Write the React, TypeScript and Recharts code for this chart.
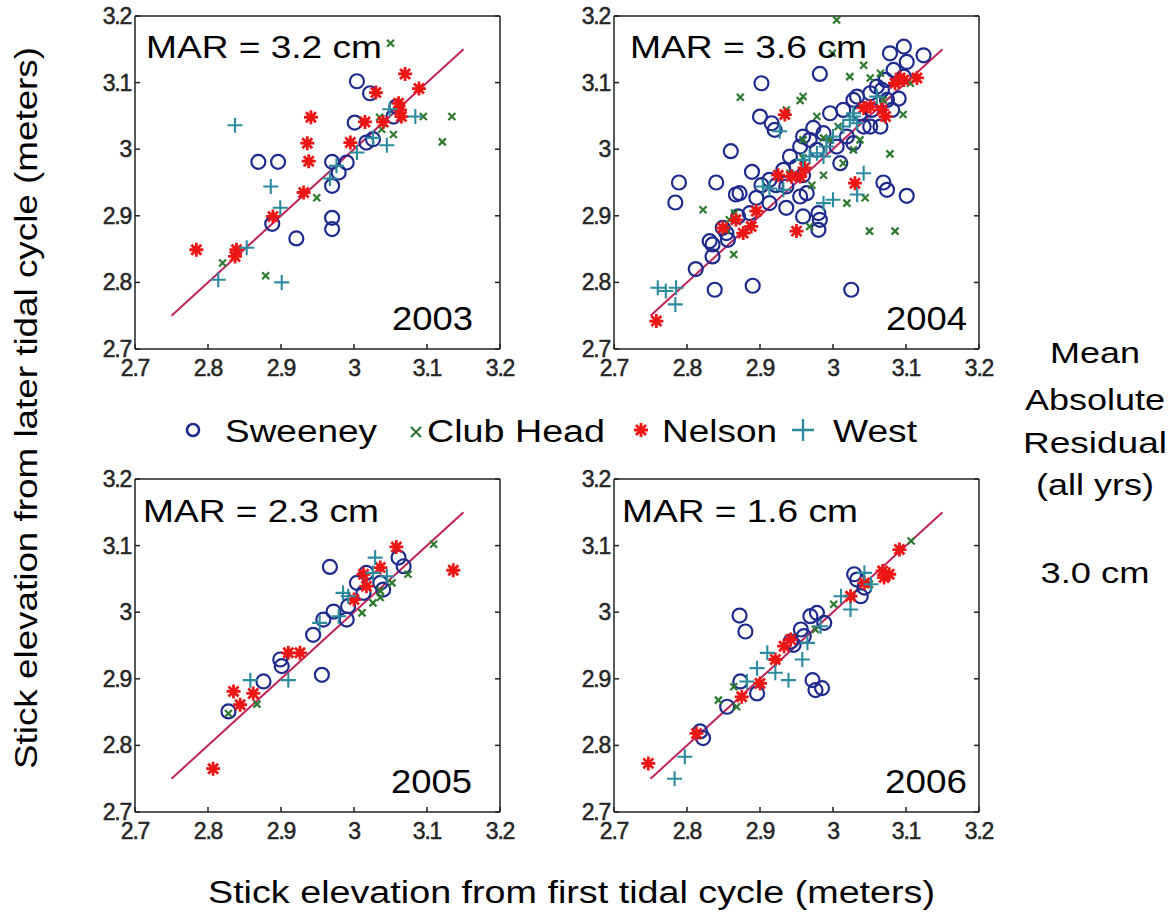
import { ScatterChart, Scatter, XAxis, YAxis, ReferenceLine } from "recharts";

type Pt = [number, number];

const TICKS = [2.7, 2.8, 2.9, 3, 3.1, 3.2];
const YEARS = ["2003", "2004", "2005", "2006"];
const MAR = ["MAR = 3.2 cm", "MAR = 3.6 cm", "MAR = 2.3 cm", "MAR = 1.6 cm"];
const SITES = ["Sweeney", "Club Head", "Nelson", "West"];
const SUMMARY = ["Mean", "Absolute", "Residual", "(all yrs)", "", "3.0 cm"];

// 2003
const sweeney2003: Pt[] = [
  [3.004, 3.102], [3.022, 3.084], [3.001, 3.04], [2.869, 2.981], [2.896, 2.981], [2.97, 2.981],
  [2.99, 2.98], [3.017, 3.01], [2.97, 2.945], [2.97, 2.897], [2.97, 2.88], [2.921, 2.866],
  [2.888, 2.888], [3.058, 3.064], [3.054, 3.049], [3.026, 3.015], [2.979, 2.965],
];
const clubHead2003: Pt[] = [
  [3.05, 3.159], [3.095, 3.049], [3.134, 3.049], [3.121, 3.011], [2.949, 2.927], [2.879, 2.81],
  [2.82, 2.829], [3.038, 3.03], [3.054, 3.022], [3.035, 3.048],
];
const nelson2003: Pt[] = [
  [3.07, 3.113], [3.089, 3.091], [3.03, 3.085], [2.941, 3.048], [2.936, 3.009], [2.938, 2.982],
  [2.931, 2.935], [2.889, 2.899], [2.784, 2.849], [2.839, 2.849], [2.837, 2.839], [3.015, 3.041],
  [2.995, 3.01], [3.063, 3.059], [3.065, 3.049], [3.061, 3.069], [3.04, 3.041],
];
const west2003: Pt[] = [
  [2.837, 3.036], [2.886, 2.944], [2.899, 2.912], [2.814, 2.804], [2.901, 2.8], [2.853, 2.852],
  [3.045, 3.006], [3.084, 3.049], [3.049, 3.06], [2.976, 2.975], [3.026, 3.017], [3.004, 2.995],
  [2.967, 2.956],
];

// 2004
const sweeney2004: Pt[] = [
  [2.902, 3.099], [2.982, 3.113], [2.9, 3.049], [2.92, 3.029], [2.916, 3.039], [2.86, 2.997],
  [2.789, 2.95], [2.784, 2.92], [2.84, 2.95], [2.889, 2.966], [2.872, 2.934], [2.849, 2.882],
  [2.835, 2.857], [2.835, 2.839], [2.812, 2.82], [2.838, 2.789], [2.89, 2.795], [3.025, 2.789],
  [3.101, 2.93], [3.069, 2.95], [3.074, 2.939], [2.959, 2.899], [2.98, 2.904], [2.98, 2.879],
  [2.982, 2.894], [2.936, 2.912], [2.913, 2.919], [2.895, 2.927], [2.902, 2.946], [2.922, 2.946],
  [2.941, 2.989], [2.955, 3.004], [2.973, 3.032], [2.996, 3.054], [3.01, 2.979], [3.033, 3.079],
  [3.037, 3.054], [3.042, 3.034], [3.067, 3.089], [3.078, 3.144], [3.097, 3.154], [3.124, 3.141],
  [3.101, 3.131], [3.083, 3.119], [3.072, 3.104], [3.09, 3.076], [3.065, 3.034], [3.053, 3.059],
  [2.959, 2.961], [2.95, 2.974], [3.005, 3.004], [2.964, 2.934], [3.097, 3.109], [3.081, 3.059],
  [3.019, 3.019], [2.856, 2.864], [2.867, 2.932], [2.831, 2.862],
  [2.932, 2.969], [2.959, 3.019], [2.968, 3.014], [2.987, 3.024], [3.014, 3.059], [3.028, 3.074],
  [3.051, 3.084], [3.06, 3.094], [3.074, 3.074], [3.051, 3.034], [3.028, 3.009], [2.978, 2.999],
  [2.936, 2.944], [2.913, 2.954], [2.955, 2.929], [2.886, 2.904], [2.87, 2.899], [2.854, 2.874],
];
const clubHead2004: Pt[] = [
  [2.873, 3.078], [2.955, 3.073], [2.959, 3.079], [2.936, 3.059], [3.005, 3.194], [2.999, 3.144],
  [3.023, 3.109], [3.042, 3.126], [3.051, 3.107], [2.822, 2.909], [2.865, 2.904], [2.864, 2.842],
  [3.078, 2.993], [3.096, 3.052], [3.05, 2.877], [3.085, 2.877], [3.019, 2.919], [3.044, 2.927],
  [3.028, 2.999], [2.971, 2.946], [2.987, 2.961], [3.007, 3.034], [3.014, 2.979], [3.065, 3.114],
  [3.106, 3.099], [2.978, 3.049], [2.968, 2.884], [2.854, 2.879], [2.987, 3.017], [2.959, 2.987],
  [2.959, 3.014], [2.941, 2.964], [2.996, 3.014], [3.037, 3.014], [3.069, 3.074], [2.858, 2.894],
];
const nelson2004: Pt[] = [
  [2.758, 2.742], [2.934, 3.052], [2.95, 2.877], [3.03, 2.949], [2.849, 2.882], [2.867, 2.894],
  [2.877, 2.874], [2.888, 2.884], [2.895, 2.907], [2.925, 2.961], [2.943, 2.959], [2.961, 2.972],
  [2.955, 2.959], [3.042, 3.062], [3.051, 3.064], [3.067, 3.059], [3.072, 3.049], [3.085, 3.099],
  [3.097, 3.104], [3.115, 3.107], [3.092, 3.107],
];
const west2004: Pt[] = [
  [2.76, 2.792], [2.771, 2.787], [2.785, 2.792], [2.784, 2.767], [2.927, 3.027], [3.042, 2.964],
  [3.033, 2.932], [3.0, 2.924], [2.987, 2.919], [2.904, 2.944], [2.932, 2.939], [2.978, 2.994],
  [3.0, 3.019], [3.023, 3.044], [3.028, 3.049], [3.033, 3.039], [3.014, 3.034], [3.06, 3.079],
  [2.968, 2.989], [2.991, 3.004], [3.028, 3.054], [2.987, 2.989], [2.959, 2.984], [2.913, 2.941],
];

// 2005
const sweeney2005: Pt[] = [
  [2.828, 2.851], [2.876, 2.896], [2.899, 2.929], [2.901, 2.919], [2.967, 3.068], [2.956, 2.906],
  [2.944, 2.966], [2.958, 2.989], [2.972, 3.001], [2.99, 2.989], [2.992, 3.009], [3.004, 3.044],
  [3.017, 3.059], [3.036, 3.044], [3.04, 3.034], [3.061, 3.082], [3.068, 3.069], [3.013, 3.029],
];
const clubHead2005: Pt[] = [
  [2.828, 2.848], [2.867, 2.862], [3.109, 3.102], [3.074, 3.057], [3.052, 3.044], [3.036, 3.022],
  [3.026, 3.014], [3.011, 2.999], [3.036, 3.032],
];
const nelson2005: Pt[] = [
  [2.807, 2.765], [2.835, 2.881], [2.844, 2.861], [2.862, 2.878], [2.91, 2.939], [2.926, 2.939],
  [3.058, 3.098], [3.136, 3.063], [3.013, 3.057], [3.036, 3.067], [3.017, 3.039], [3.0, 3.019],
];
const west2005: Pt[] = [
  [2.858, 2.898], [2.91, 2.898], [3.029, 3.082], [2.985, 3.029], [2.992, 3.024], [2.979, 2.994],
  [2.953, 2.984], [3.026, 3.059], [3.045, 3.054],
];

// 2006
const sweeney2006: Pt[] = [
  [2.872, 2.995], [2.88, 2.971], [2.818, 2.821], [2.822, 2.811], [2.855, 2.858], [2.873, 2.896],
  [2.896, 2.878], [2.972, 2.898], [2.976, 2.883], [2.985, 2.886], [2.942, 2.956], [2.956, 2.974],
  [2.969, 2.994], [2.988, 2.984], [2.978, 2.999], [3.029, 3.057], [3.033, 3.049], [3.038, 3.024],
  [3.043, 3.037], [2.96, 2.964], [2.946, 2.951],
];
const clubHead2006: Pt[] = [
  [2.843, 2.868], [2.864, 2.888], [2.868, 2.858], [3.001, 3.012], [3.05, 3.042], [3.107, 3.107],
  [2.976, 2.974],
];
const nelson2006: Pt[] = [
  [2.747, 2.773], [2.813, 2.818], [2.875, 2.873], [2.9, 2.893], [2.921, 2.929], [2.933, 2.949],
  [2.942, 2.959], [3.024, 3.024], [3.043, 3.044], [3.068, 3.062], [3.077, 3.057], [3.091, 3.094],
  [3.07, 3.052],
];
const west2006: Pt[] = [
  [2.783, 2.75], [2.797, 2.783], [2.896, 2.916], [2.91, 2.939], [2.939, 2.898], [2.958, 2.929],
  [2.921, 2.909], [2.965, 2.954], [3.024, 3.004], [3.011, 3.024], [3.043, 3.059], [3.052, 3.042],
  [2.882, 2.896], [2.983, 2.979],
];

const BLUE = "#1f2b8c";
const GREEN = "#2e7a30";
const RED = "#ee1515";
const TEAL = "#2c8c9e";
const LINE = "#c0225a";
const INK = "#262626";
const FONT = "'Liberation Sans', Arial, sans-serif";

const toXY = (pts: Pt[]) => pts.map(([x, y]) => ({ x, y }));

const Ring = (p: any) => <circle cx={p.cx} cy={p.cy} r={7} fill="none" stroke={BLUE} strokeWidth={2.2} />;
const Cross = (p: any) => {
  const s = 3.5;
  return (
    <path d={`M${p.cx - s},${p.cy - s}L${p.cx + s},${p.cy + s}M${p.cx - s},${p.cy + s}L${p.cx + s},${p.cy - s}`}
      stroke={GREEN} strokeWidth={2.2} />
  );
};
const Star = (p: any) => {
  const s = 7, d = 5;
  return (
    <path d={`M${p.cx - s},${p.cy}L${p.cx + s},${p.cy}M${p.cx},${p.cy - s}L${p.cx},${p.cy + s}` +
      `M${p.cx - d},${p.cy - d}L${p.cx + d},${p.cy + d}M${p.cx - d},${p.cy + d}L${p.cx + d},${p.cy - d}`}
      stroke={RED} strokeWidth={2.8} />
  );
};
const Plus = (p: any) => {
  const s = 7.5;
  return (
    <path d={`M${p.cx - s},${p.cy}L${p.cx + s},${p.cy}M${p.cx},${p.cy - s}L${p.cx},${p.cy + s}`}
      stroke={TEAL} strokeWidth={2.1} />
  );
};

const tickText = { fontFamily: FONT, fontSize: 23, fill: INK, stroke: INK, strokeWidth: 0.5, letterSpacing: -1.2 };
const XTick = (p: any) => (
  <text x={p.x} y={p.y + 17} textAnchor="middle" style={tickText}>{String(p.payload.value)}</text>
);
const YTick = (p: any) => (
  <text x={p.x + 1} y={p.y + 8} textAnchor="end" style={tickText}>{String(p.payload.value)}</text>
);
const NoTick = () => <g />;

const AX = { stroke: "#222", strokeWidth: 1.5 };

function Panel({ left, top, sets }: { left: number; top: number; sets: Pt[][] }) {
  const [sw, ch, ne, we] = sets;
  return (
    <div style={{ position: "absolute", left: left - 45, top: top - 21 }}>
      <ScatterChart width={425} height={394} margin={{ top: 20, right: 14, bottom: 10, left: 0 }}>
        <XAxis xAxisId={0} dataKey="x" type="number" domain={[2.7, 3.2]} ticks={TICKS} allowDataOverflow
          height={30} tickSize={-5} tickMargin={15} tick={XTick} axisLine={AX} tickLine={AX} />
        <XAxis xAxisId="top" orientation="top" type="number" domain={[2.7, 3.2]} ticks={TICKS} allowDataOverflow
          height={1} tickSize={-5} tick={NoTick} axisLine={AX} tickLine={AX} />
        <YAxis yAxisId={0} dataKey="y" type="number" domain={[2.7, 3.2]} ticks={TICKS} allowDataOverflow
          width={45} tickSize={-5} tickMargin={10} tick={YTick} axisLine={AX} tickLine={AX} />
        <YAxis yAxisId="right" orientation="right" type="number" domain={[2.7, 3.2]} ticks={TICKS} allowDataOverflow
          width={1} tickSize={-5} tick={NoTick} axisLine={AX} tickLine={AX} />
        <Scatter name="Sweeney" data={toXY(sw)} shape={Ring} isAnimationActive={false} />
        <Scatter name="Club Head" data={toXY(ch)} shape={Cross} isAnimationActive={false} />
        <Scatter name="Nelson" data={toXY(ne)} shape={Star} isAnimationActive={false} />
        <Scatter name="West" data={toXY(we)} shape={Plus} isAnimationActive={false} />
        <ReferenceLine segment={[{ x: 2.75, y: 2.75 }, { x: 3.15, y: 3.15 }]} stroke={LINE} strokeWidth={2}
          ifOverflow="visible" />
      </ScatterChart>
    </div>
  );
}

const PANELS = [
  { left: 135, top: 16, sets: [sweeney2003, clubHead2003, nelson2003, west2003] },
  { left: 614, top: 16, sets: [sweeney2004, clubHead2004, nelson2004, west2004] },
  { left: 135, top: 479, sets: [sweeney2005, clubHead2005, nelson2005, west2005] },
  { left: 614, top: 479, sets: [sweeney2006, clubHead2006, nelson2006, west2006] },
];

// label placement: [x, baseline, width]
const MAR_POS = [[146, 58, 236], [630, 58, 237], [143, 522, 236], [622, 522, 236]];
const YEAR_POS = [[392, 330, 81], [886, 330, 81], [391, 793, 81], [885, 793, 82]];
const LEGEND_POS = [[225, 152], [427, 178], [662, 115], [833, 84]];
const SUMMARY_BASE = [363, 410, 453, 495, 0, 583];
const SUMMARY_W = [90, 140, 144, 118, 0, 109];

const T = (props: any) => (
  <text fontFamily={FONT} fill="#000" lengthAdjust="spacingAndGlyphs" {...props} />
);

export default function App() {
  return (
    <div style={{ position: "absolute", left: 0, top: 0, width: 1175, height: 917, background: "#fff" }}>
      {PANELS.map((p, i) => (
        <Panel key={i} left={p.left} top={p.top} sets={p.sets} />
      ))}
      <svg width={1175} height={917} style={{ position: "absolute", left: 0, top: 0, pointerEvents: "none" }}>
        {MAR.map((m, i) => (
          <T key={m} x={MAR_POS[i][0]} y={MAR_POS[i][1]} fontSize={31} textLength={MAR_POS[i][2]}>{m}</T>
        ))}
        {YEARS.map((y, i) => (
          <T key={y} x={YEAR_POS[i][0]} y={YEAR_POS[i][1]} fontSize={34} textLength={YEAR_POS[i][2]}>{y}</T>
        ))}
        <circle cx={193} cy={430} r={6} fill="none" stroke={BLUE} strokeWidth={2.6} />
        <path d="M411,427L421,437M411,437L421,427" stroke={GREEN} strokeWidth={2.2} />
        <Star cx={641} cy={430} />
        <path d="M792,430L814,430M803,419L803,441" stroke={TEAL} strokeWidth={2.4} />
        {SITES.map((s, i) => (
          <T key={s} x={LEGEND_POS[i][0]} y={442} fontSize={31} textLength={LEGEND_POS[i][1]}>{s}</T>
        ))}
        <T x={0} y={0} fontSize={32} textLength={722} textAnchor="middle"
          transform="translate(37,408) rotate(-90)">Stick elevation from later tidal cycle (meters)</T>
        <T x={208} y={903} fontSize={31} textLength={727}>Stick elevation from first tidal cycle (meters)</T>
        {SUMMARY.map((s, i) =>
          s ? (
            <T key={s} x={1095} y={SUMMARY_BASE[i]} fontSize={29} textAnchor="middle" textLength={SUMMARY_W[i]}>{s}</T>
          ) : null
        )}
      </svg>
    </div>
  );
}
